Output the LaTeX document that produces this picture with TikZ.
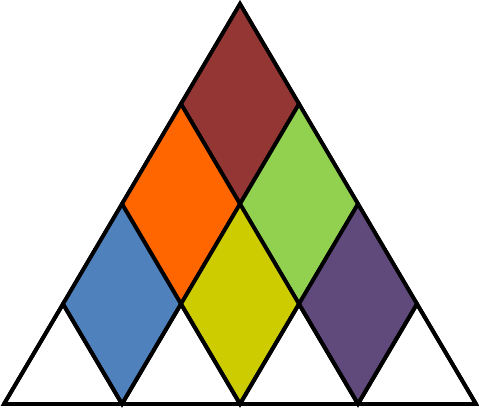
\documentclass[tikz,border=0pt]{standalone}
\usepackage{xcolor}
\usepackage{tikz}
\usetikzlibrary{calc}

\definecolor{rhombBrown}{HTML}{943634}
\definecolor{rhombOrange}{HTML}{FF6600}
\definecolor{rhombGreen}{HTML}{92D050}
\definecolor{rhombBlue}{HTML}{4F81BD}
\definecolor{rhombYellow}{HTML}{CCCC00}
\definecolor{rhombPurple}{HTML}{604A7B}

\begin{document}
\begin{tikzpicture}[
    x=1cm, y=1cm,
    edge/.style={draw=black, line width=1.1pt, line join=miter},
    rhomb/.style={edge, fill=#1}
]
    \useasboundingbox (0,0) rectangle (4.79,4.08);

    % lattice points: row r from the top, index i along the row
    \foreach \r in {0,...,4} {
        \foreach \i in {0,...,\r} {
            \coordinate (p\r\i) at ({2.40-0.59*\r+1.18*\i}, {4.04-1.00*\r});
        }
    }

    % outer triangle
    \draw[edge] (p00) -- (p40) -- (p44) -- cycle;

    % rhombi
    \draw[rhomb=rhombBrown]  (p00) -- (p10) -- (p21) -- (p11) -- cycle;
    \draw[rhomb=rhombOrange] (p10) -- (p20) -- (p31) -- (p21) -- cycle;
    \draw[rhomb=rhombGreen]  (p11) -- (p21) -- (p32) -- (p22) -- cycle;
    \draw[rhomb=rhombBlue]   (p20) -- (p30) -- (p41) -- (p31) -- cycle;
    \draw[rhomb=rhombYellow] (p21) -- (p31) -- (p42) -- (p32) -- cycle;
    \draw[rhomb=rhombPurple] (p22) -- (p32) -- (p43) -- (p33) -- cycle;

    % white triangles along the base
    \foreach \i [evaluate=\i as \j using int(\i+1)] in {0,...,3} {
        \draw[edge] (p4\i) -- (p3\i) -- (p4\j);
    }
\end{tikzpicture}
\end{document}
